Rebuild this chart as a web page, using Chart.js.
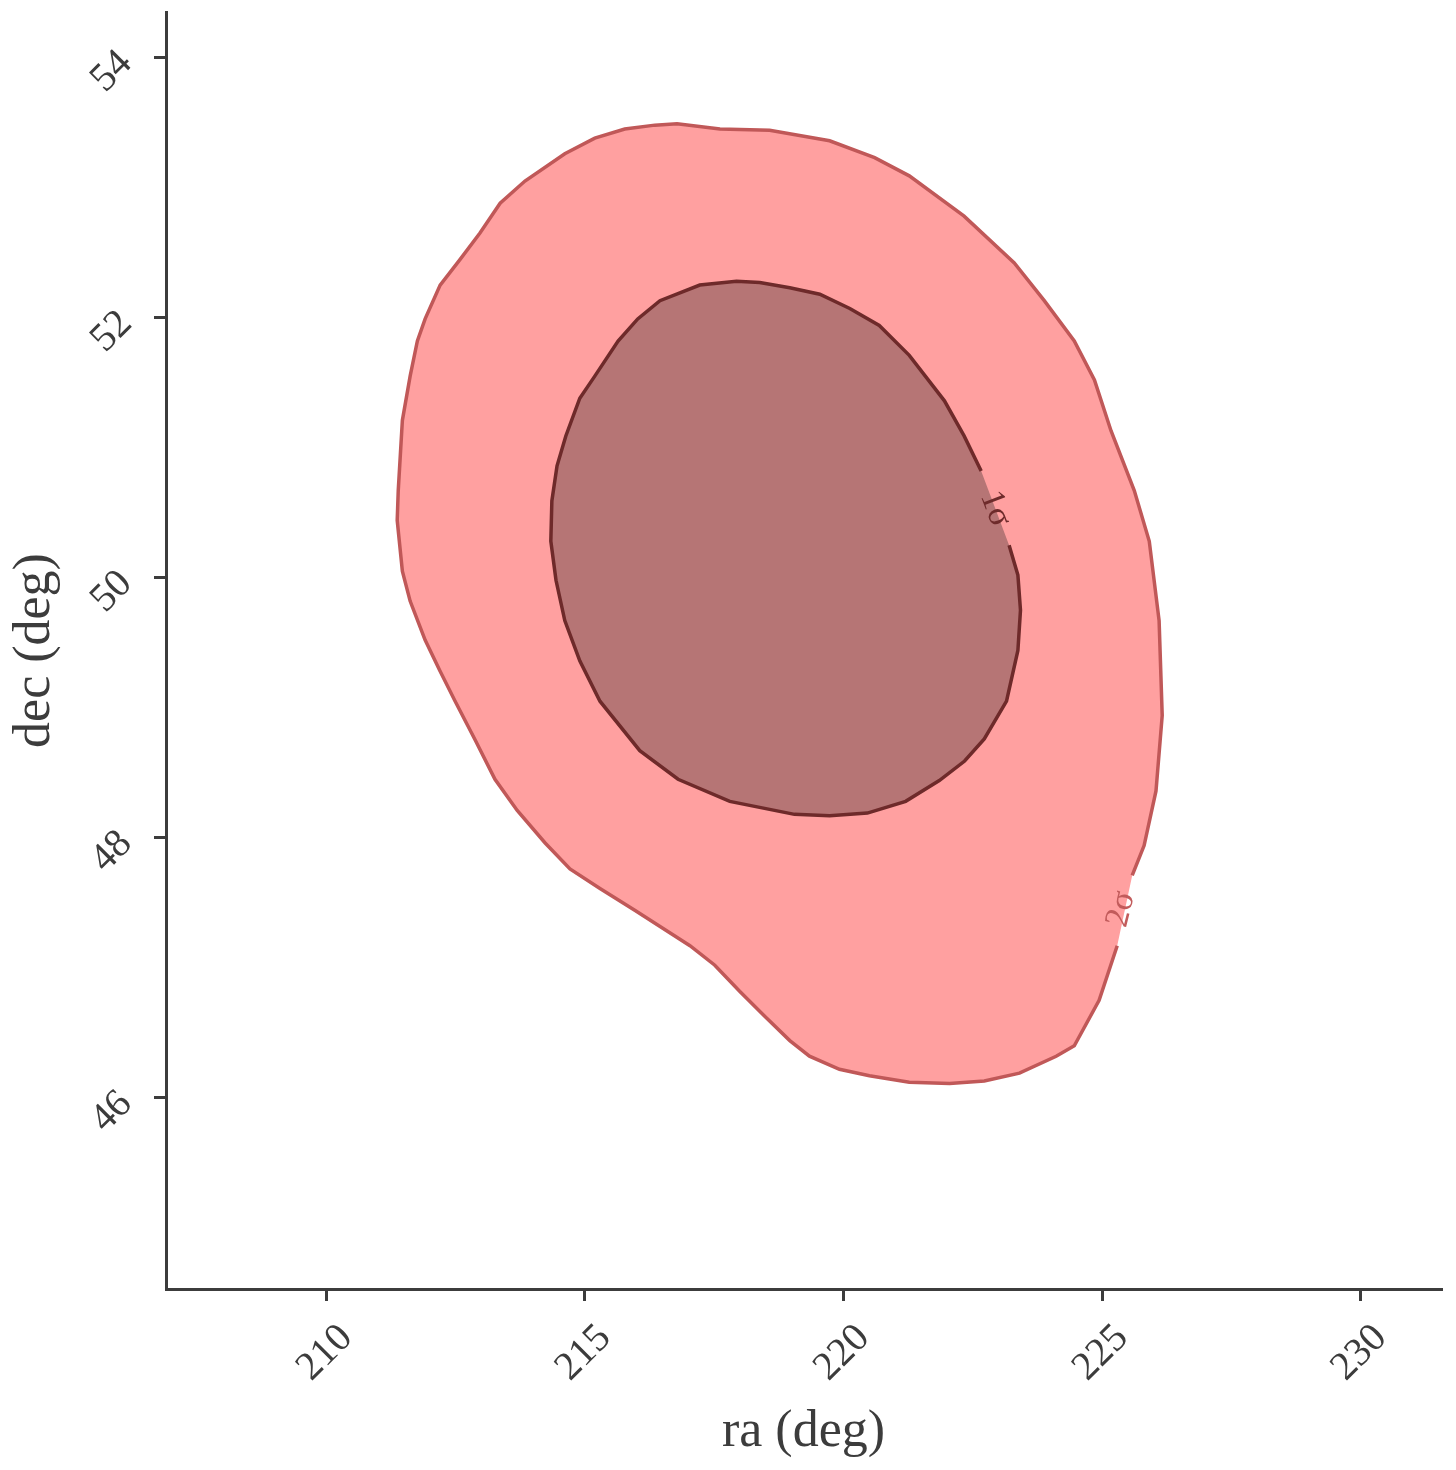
<!DOCTYPE html>
<html lang="en">
<head>
  <meta charset="UTF-8">
  <title>ra / dec contours</title>
  <script src="https://cdn.jsdelivr.net/npm/chart.js"></script>
  <style>
    body { margin: 0; background: #fff; }
    #wrap { width: 1456px; height: 1470px; }
  </style>
</head>
<body>
  <div id="wrap"><canvas id="chart" width="1456" height="1470"></canvas></div>
  <script>
    // 2σ contour (starts/ends at the label gap)
    const outerRa = [225.29, 224.94, 224.46, 224.11, 223.40, 222.72, 222.05, 221.27, 220.50, 219.92, 219.34, 218.96,
      218.47, 217.99, 217.51, 217.03, 215.97, 215.29, 214.71, 214.23, 213.69, 213.26, 212.88, 212.49, 212.20, 211.91,
      211.62, 211.47, 211.37, 211.39, 211.47, 211.62, 211.76, 211.91, 212.20, 212.59, 212.97, 213.36, 213.84, 214.61,
      215.19, 215.77, 216.35, 216.78, 217.61, 218.57, 219.73, 220.60, 221.27, 222.33, 223.30, 223.88, 224.46, 224.85,
      225.17, 225.62, 225.91, 226.10, 226.16, 226.04, 225.81, 225.58];
    const outerDec = [47.17, 46.75, 46.40, 46.32, 46.19, 46.13, 46.11, 46.12, 46.17, 46.22, 46.32, 46.44,
      46.63, 46.82, 47.02, 47.17, 47.44, 47.61, 47.76, 47.96, 48.21, 48.45, 48.75, 49.05, 49.28, 49.52,
      49.82, 50.05, 50.44, 50.67, 51.21, 51.55, 51.82, 51.99, 52.25, 52.45, 52.65, 52.88, 53.05, 53.26,
      53.38, 53.45, 53.48, 53.49, 53.45, 53.44, 53.36, 53.23, 53.09, 52.78, 52.42, 52.13, 51.82, 51.52,
      51.13, 50.67, 50.28, 49.67, 48.94, 48.36, 47.94, 47.71];

    // 1σ contour
    const innerRa = [223.20, 223.37, 223.42, 223.37, 223.15, 222.72, 222.34, 221.85, 221.20, 220.46, 219.73, 219.05,
      217.80, 216.80, 216.06, 215.29, 214.90, 214.61, 214.44, 214.34, 214.36, 214.46, 214.63, 214.90, 215.19, 215.64,
      216.02, 216.45, 217.22, 217.93, 218.38, 218.96, 219.54, 220.12, 220.69, 221.27, 221.95, 222.33, 222.66];
    const innerDec = [50.25, 50.02, 49.75, 49.44, 49.05, 48.76, 48.59, 48.44, 48.28, 48.19, 48.17, 48.18,
      48.28, 48.45, 48.67, 49.05, 49.36, 49.67, 49.98, 50.28, 50.59, 50.86, 51.09, 51.38, 51.55, 51.82,
      51.99, 52.13, 52.25, 52.28, 52.27, 52.23, 52.18, 52.07, 51.94, 51.71, 51.36, 51.09, 50.82];

    const xTicks = [210, 215, 220, 225, 230];
    const yTicks = [46, 48, 50, 52, 54];

    // contour labels
    const labelText = ['1σ', '2σ'];
    const labelRa = [222.93, 225.37];
    const labelDec = [50.53, 47.45];
    const labelAngle = [69, -76];
    const labelColor = ['#6e2b2b', '#c25b5b'];

    const axisColor = '#3c3c3c';
    const serif = "'Liberation Serif', 'DejaVu Serif', serif";

    const pts = (xs, ys) => xs.map((x, i) => ({ x: x, y: ys[i] }));
    const closed = (xs, ys) => pts(xs, ys).concat([{ x: xs[0], y: ys[0] }]);

    // 等高線ラベル
    const contourLabels = {
      id: 'contourLabels',
      afterDatasetsDraw(chart) {
        const { ctx, scales: { x, y } } = chart;
        ctx.save();
        ctx.font = '34px ' + serif;
        ctx.textAlign = 'center';
        ctx.textBaseline = 'middle';
        labelText.forEach((t, i) => {
          ctx.save();
          ctx.translate(x.getPixelForValue(labelRa[i]), y.getPixelForValue(labelDec[i]));
          ctx.rotate(labelAngle[i] * Math.PI / 180);
          ctx.fillStyle = labelColor[i];
          ctx.fillText(t, 0, 0);
          ctx.restore();
        });
        ctx.restore();
      }
    };

    new Chart(document.getElementById('chart'), {
      type: 'scatter',
      data: {
        datasets: [
          { data: closed(outerRa, outerDec), showLine: true, fill: 'shape', backgroundColor: '#ffa0a0',
            borderWidth: 0, pointRadius: 0, order: 4 },
          { data: pts(outerRa, outerDec), showLine: true, fill: false, borderColor: '#c05858',
            borderWidth: 3.5, pointRadius: 0, order: 3 },
          { data: closed(innerRa, innerDec), showLine: true, fill: 'shape', backgroundColor: '#b67575',
            borderWidth: 0, pointRadius: 0, order: 2 },
          { data: pts(innerRa, innerDec), showLine: true, fill: false, borderColor: '#6e2a2a',
            borderWidth: 3.5, pointRadius: 0, order: 1 }
        ]
      },
      options: {
        responsive: false,
        animation: false,
        devicePixelRatio: 1,
        layout: { padding: { top: 12, right: 15, left: 0, bottom: 0 } },
        plugins: { legend: { display: false }, tooltip: { enabled: false } },
        scales: {
          x: {
            type: 'linear', min: 206.9, max: 231.55,
            afterBuildTicks: s => { s.ticks = xTicks.map(v => ({ value: v })); },
            afterFit: s => { s.height = 181; s.paddingLeft = 0; s.paddingRight = 0; },
            border: { color: axisColor, width: 3 },
            grid: { drawOnChartArea: false, drawTicks: true, tickLength: 12, color: axisColor, lineWidth: 3 },
            ticks: { minRotation: 45, maxRotation: 45, labelOffset: 20, padding: 14,
              color: axisColor, font: { family: serif, size: 40 } },
            title: { display: true, text: 'ra (deg)', color: axisColor, font: { family: serif, size: 52 }, padding: 6 }
          },
          y: {
            type: 'linear', min: 44.53, max: 54.35,
            afterBuildTicks: s => { s.ticks = yTicks.map(v => ({ value: v })); },
            afterFit: s => { s.width = 166; s.paddingTop = 0; s.paddingBottom = 0; },
            border: { color: axisColor, width: 3 },
            grid: { drawOnChartArea: false, drawTicks: true, tickLength: 12, color: axisColor, lineWidth: 3 },
            ticks: { minRotation: 45, maxRotation: 45, padding: 28,
              color: axisColor, font: { family: serif, size: 40 } },
            title: { display: true, text: 'dec (deg)', color: axisColor, font: { family: serif, size: 52 }, padding: 4 }
          }
        }
      },
      plugins: [contourLabels]
    });
  </script>
</body>
</html>
